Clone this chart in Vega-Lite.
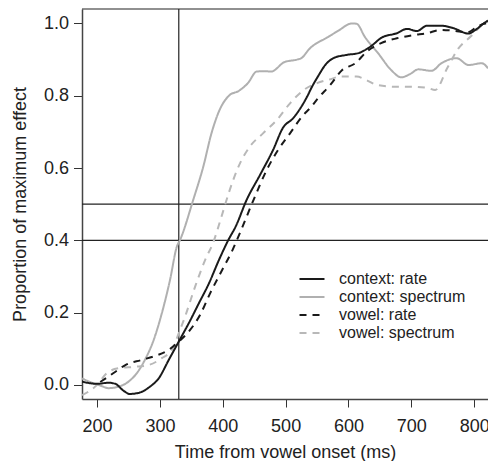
{
  "$schema": "https://vega.github.io/schema/vega-lite/v6.json",
  "width": 406,
  "height": 390,
  "autosize": {"type": "none"},
  "padding": {"left": 82, "top": 9, "right": 0, "bottom": 62},
  "config": {
    "view": {"stroke": null},
    "font": "Liberation Sans",
    "axis": {
      "grid": false,
      "domainColor": "#444",
      "domainWidth": 1.5,
      "tickColor": "#333",
      "tickWidth": 1,
      "tickSize": 8,
      "labelFont": "Liberation Sans",
      "labelFontSize": 18,
      "labelColor": "#222",
      "titleFont": "Liberation Sans",
      "titleFontSize": 18,
      "titleFontWeight": "normal",
      "titleColor": "#222",
      "labelFlush": false,
      "labelOverlap": false
    },
    "legend": {
      "orient": "none",
      "legendX": 222,
      "legendY": 262,
      "title": null,
      "labelFont": "Liberation Sans",
      "labelFontSize": 16,
      "labelColor": "#222",
      "symbolType": "M-2,0H2",
      "symbolSize": 156,
      "symbolStrokeWidth": 2,
      "labelOffset": 19,
      "rowPadding": 2,
      "padding": 0
    }
  },
  "layer": [
    {
      "data": {"values": [{"t": 330}]},
      "mark": {"type": "rule", "color": "#222", "strokeWidth": 1.2},
      "encoding": {
        "x": {
          "field": "t", "type": "quantitative",
          "scale": {"domain": [176, 822], "nice": false, "zero": false},
          "axis": {"title": "Time from vowel onset (ms)", "values": [200, 300, 400, 500, 600, 700, 800], "labelBaseline": "alphabetic", "labelPadding": 24, "titleY": 58, "titleBaseline": "alphabetic"}
        }
      }
    },
    {
      "data": {"values": [{"p": 0.5}, {"p": 0.4}, {"p": 1.04}]},
      "mark": {"type": "rule", "color": "#222", "strokeWidth": 1.2},
      "encoding": {
        "y": {
          "field": "p", "type": "quantitative",
          "scale": {"domain": [-0.039, 1.04], "nice": false, "zero": false},
          "axis": {"title": "Proportion of maximum effect", "values": [0, 0.2, 0.4, 0.6, 0.8, 1.0], "format": ".1f", "labelPadding": 5, "tickSize": 8.5, "titleX": -57, "titleBaseline": "alphabetic"}
        }
      }
    },
    {
      "data": {
        "values": [
          {"s": "context: spectrum", "t": 176, "p": 0.018},
          {"s": "context: spectrum", "t": 192, "p": 0.006},
          {"s": "context: spectrum", "t": 207, "p": -0.003},
          {"s": "context: spectrum", "t": 218, "p": -0.009},
          {"s": "context: spectrum", "t": 234, "p": -0.005},
          {"s": "context: spectrum", "t": 250, "p": 0.009},
          {"s": "context: spectrum", "t": 263, "p": 0.032},
          {"s": "context: spectrum", "t": 276, "p": 0.069},
          {"s": "context: spectrum", "t": 290, "p": 0.124},
          {"s": "context: spectrum", "t": 303, "p": 0.198},
          {"s": "context: spectrum", "t": 316, "p": 0.29},
          {"s": "context: spectrum", "t": 327, "p": 0.383},
          {"s": "context: spectrum", "t": 332, "p": 0.401},
          {"s": "context: spectrum", "t": 353, "p": 0.512},
          {"s": "context: spectrum", "t": 369, "p": 0.604},
          {"s": "context: spectrum", "t": 382, "p": 0.696},
          {"s": "context: spectrum", "t": 395, "p": 0.761},
          {"s": "context: spectrum", "t": 411, "p": 0.802},
          {"s": "context: spectrum", "t": 425, "p": 0.813},
          {"s": "context: spectrum", "t": 440, "p": 0.835},
          {"s": "context: spectrum", "t": 454, "p": 0.867},
          {"s": "context: spectrum", "t": 466, "p": 0.868},
          {"s": "context: spectrum", "t": 477, "p": 0.867},
          {"s": "context: spectrum", "t": 498, "p": 0.893},
          {"s": "context: spectrum", "t": 518, "p": 0.9},
          {"s": "context: spectrum", "t": 525, "p": 0.904},
          {"s": "context: spectrum", "t": 538, "p": 0.93},
          {"s": "context: spectrum", "t": 568, "p": 0.963},
          {"s": "context: spectrum", "t": 584, "p": 0.98},
          {"s": "context: spectrum", "t": 605, "p": 1.0},
          {"s": "context: spectrum", "t": 613, "p": 0.999},
          {"s": "context: spectrum", "t": 626, "p": 0.963},
          {"s": "context: spectrum", "t": 647, "p": 0.918},
          {"s": "context: spectrum", "t": 668, "p": 0.871},
          {"s": "context: spectrum", "t": 684, "p": 0.851},
          {"s": "context: spectrum", "t": 698, "p": 0.86},
          {"s": "context: spectrum", "t": 711, "p": 0.873},
          {"s": "context: spectrum", "t": 732, "p": 0.869},
          {"s": "context: spectrum", "t": 748, "p": 0.89},
          {"s": "context: spectrum", "t": 772, "p": 0.904},
          {"s": "context: spectrum", "t": 791, "p": 0.885},
          {"s": "context: spectrum", "t": 812, "p": 0.89},
          {"s": "context: spectrum", "t": 822, "p": 0.876},

          {"s": "vowel: spectrum", "t": 176, "p": -0.028},
          {"s": "vowel: spectrum", "t": 184, "p": -0.021},
          {"s": "vowel: spectrum", "t": 200, "p": 0.0},
          {"s": "vowel: spectrum", "t": 215, "p": 0.032},
          {"s": "vowel: spectrum", "t": 234, "p": 0.046},
          {"s": "vowel: spectrum", "t": 260, "p": 0.05},
          {"s": "vowel: spectrum", "t": 282, "p": 0.055},
          {"s": "vowel: spectrum", "t": 303, "p": 0.074},
          {"s": "vowel: spectrum", "t": 319, "p": 0.097},
          {"s": "vowel: spectrum", "t": 330, "p": 0.143},
          {"s": "vowel: spectrum", "t": 340, "p": 0.189},
          {"s": "vowel: spectrum", "t": 356, "p": 0.272},
          {"s": "vowel: spectrum", "t": 372, "p": 0.346},
          {"s": "vowel: spectrum", "t": 385, "p": 0.395},
          {"s": "vowel: spectrum", "t": 398, "p": 0.466},
          {"s": "vowel: spectrum", "t": 411, "p": 0.539},
          {"s": "vowel: spectrum", "t": 425, "p": 0.604},
          {"s": "vowel: spectrum", "t": 443, "p": 0.659},
          {"s": "vowel: spectrum", "t": 464, "p": 0.696},
          {"s": "vowel: spectrum", "t": 486, "p": 0.733},
          {"s": "vowel: spectrum", "t": 507, "p": 0.779},
          {"s": "vowel: spectrum", "t": 528, "p": 0.815},
          {"s": "vowel: spectrum", "t": 550, "p": 0.835},
          {"s": "vowel: spectrum", "t": 570, "p": 0.845},
          {"s": "vowel: spectrum", "t": 587, "p": 0.853},
          {"s": "vowel: spectrum", "t": 613, "p": 0.853},
          {"s": "vowel: spectrum", "t": 630, "p": 0.842},
          {"s": "vowel: spectrum", "t": 645, "p": 0.83},
          {"s": "vowel: spectrum", "t": 672, "p": 0.825},
          {"s": "vowel: spectrum", "t": 698, "p": 0.825},
          {"s": "vowel: spectrum", "t": 725, "p": 0.822},
          {"s": "vowel: spectrum", "t": 738, "p": 0.816},
          {"s": "vowel: spectrum", "t": 757, "p": 0.876},
          {"s": "vowel: spectrum", "t": 775, "p": 0.931},
          {"s": "vowel: spectrum", "t": 794, "p": 0.963},
          {"s": "vowel: spectrum", "t": 813, "p": 0.996},
          {"s": "vowel: spectrum", "t": 822, "p": 1.005},

          {"s": "vowel: rate", "t": 205, "p": 0.008},
          {"s": "vowel: rate", "t": 218, "p": 0.023},
          {"s": "vowel: rate", "t": 232, "p": 0.04},
          {"s": "vowel: rate", "t": 245, "p": 0.055},
          {"s": "vowel: rate", "t": 271, "p": 0.069},
          {"s": "vowel: rate", "t": 292, "p": 0.08},
          {"s": "vowel: rate", "t": 314, "p": 0.097},
          {"s": "vowel: rate", "t": 330, "p": 0.12},
          {"s": "vowel: rate", "t": 348, "p": 0.152},
          {"s": "vowel: rate", "t": 364, "p": 0.194},
          {"s": "vowel: rate", "t": 380, "p": 0.254},
          {"s": "vowel: rate", "t": 399, "p": 0.318},
          {"s": "vowel: rate", "t": 416, "p": 0.375},
          {"s": "vowel: rate", "t": 426, "p": 0.415},
          {"s": "vowel: rate", "t": 449, "p": 0.512},
          {"s": "vowel: rate", "t": 470, "p": 0.595},
          {"s": "vowel: rate", "t": 488, "p": 0.65},
          {"s": "vowel: rate", "t": 507, "p": 0.696},
          {"s": "vowel: rate", "t": 526, "p": 0.742},
          {"s": "vowel: rate", "t": 541, "p": 0.77},
          {"s": "vowel: rate", "t": 550, "p": 0.79},
          {"s": "vowel: rate", "t": 571, "p": 0.83},
          {"s": "vowel: rate", "t": 590, "p": 0.871},
          {"s": "vowel: rate", "t": 611, "p": 0.89},
          {"s": "vowel: rate", "t": 629, "p": 0.922},
          {"s": "vowel: rate", "t": 651, "p": 0.945},
          {"s": "vowel: rate", "t": 677, "p": 0.959},
          {"s": "vowel: rate", "t": 704, "p": 0.968},
          {"s": "vowel: rate", "t": 725, "p": 0.973},
          {"s": "vowel: rate", "t": 746, "p": 0.982},
          {"s": "vowel: rate", "t": 767, "p": 0.98},
          {"s": "vowel: rate", "t": 789, "p": 0.975},
          {"s": "vowel: rate", "t": 805, "p": 0.991},
          {"s": "vowel: rate", "t": 818, "p": 1.0},
          {"s": "vowel: rate", "t": 822, "p": 1.0},

          {"s": "context: rate", "t": 176, "p": 0.009},
          {"s": "context: rate", "t": 200, "p": 0.003},
          {"s": "context: rate", "t": 218, "p": 0.006},
          {"s": "context: rate", "t": 229, "p": 0.003},
          {"s": "context: rate", "t": 242, "p": -0.016},
          {"s": "context: rate", "t": 252, "p": -0.025},
          {"s": "context: rate", "t": 268, "p": -0.021},
          {"s": "context: rate", "t": 284, "p": -0.005},
          {"s": "context: rate", "t": 298, "p": 0.018},
          {"s": "context: rate", "t": 314, "p": 0.069},
          {"s": "context: rate", "t": 330, "p": 0.12},
          {"s": "context: rate", "t": 346, "p": 0.171},
          {"s": "context: rate", "t": 362, "p": 0.226},
          {"s": "context: rate", "t": 378, "p": 0.281},
          {"s": "context: rate", "t": 394, "p": 0.346},
          {"s": "context: rate", "t": 408, "p": 0.398},
          {"s": "context: rate", "t": 421, "p": 0.44},
          {"s": "context: rate", "t": 438, "p": 0.512},
          {"s": "context: rate", "t": 459, "p": 0.58},
          {"s": "context: rate", "t": 480, "p": 0.65},
          {"s": "context: rate", "t": 496, "p": 0.712},
          {"s": "context: rate", "t": 512, "p": 0.738},
          {"s": "context: rate", "t": 534, "p": 0.797},
          {"s": "context: rate", "t": 542, "p": 0.825},
          {"s": "context: rate", "t": 552, "p": 0.855},
          {"s": "context: rate", "t": 563, "p": 0.885},
          {"s": "context: rate", "t": 576, "p": 0.904},
          {"s": "context: rate", "t": 597, "p": 0.913},
          {"s": "context: rate", "t": 616, "p": 0.918},
          {"s": "context: rate", "t": 635, "p": 0.936},
          {"s": "context: rate", "t": 653, "p": 0.961},
          {"s": "context: rate", "t": 677, "p": 0.973},
          {"s": "context: rate", "t": 693, "p": 0.985},
          {"s": "context: rate", "t": 709, "p": 0.979},
          {"s": "context: rate", "t": 725, "p": 0.994},
          {"s": "context: rate", "t": 746, "p": 0.994},
          {"s": "context: rate", "t": 767, "p": 0.987},
          {"s": "context: rate", "t": 791, "p": 0.972},
          {"s": "context: rate", "t": 802, "p": 0.982},
          {"s": "context: rate", "t": 815, "p": 1.0},
          {"s": "context: rate", "t": 822, "p": 1.008}
        ]
      },
      "mark": {"type": "line", "strokeWidth": 2, "interpolate": "monotone", "clip": true},
      "encoding": {
        "x": {
          "field": "t", "type": "quantitative",
          "scale": {"domain": [176, 822], "nice": false, "zero": false},
          "axis": {"title": "Time from vowel onset (ms)", "values": [200, 300, 400, 500, 600, 700, 800], "labelBaseline": "alphabetic", "labelPadding": 24, "titleY": 58, "titleBaseline": "alphabetic"}
        },
        "y": {
          "field": "p", "type": "quantitative",
          "scale": {"domain": [-0.039, 1.04], "nice": false, "zero": false},
          "axis": {"title": "Proportion of maximum effect", "values": [0, 0.2, 0.4, 0.6, 0.8, 1.0], "format": ".1f", "labelPadding": 5, "tickSize": 8.5, "titleX": -57, "titleBaseline": "alphabetic"}
        },
        "color": {
          "field": "s", "type": "nominal",
          "scale": {"domain": ["context: rate", "context: spectrum", "vowel: rate", "vowel: spectrum"], "range": ["#1a1a1a", "#b0b0b0", "#1a1a1a", "#b8b8b8"]}
        },
        "strokeDash": {
          "field": "s", "type": "nominal",
          "scale": {"domain": ["context: rate", "context: spectrum", "vowel: rate", "vowel: spectrum"], "range": [[1, 0], [1, 0], [7, 6], [7, 6]]}
        }
      }
    }
  ]
}
